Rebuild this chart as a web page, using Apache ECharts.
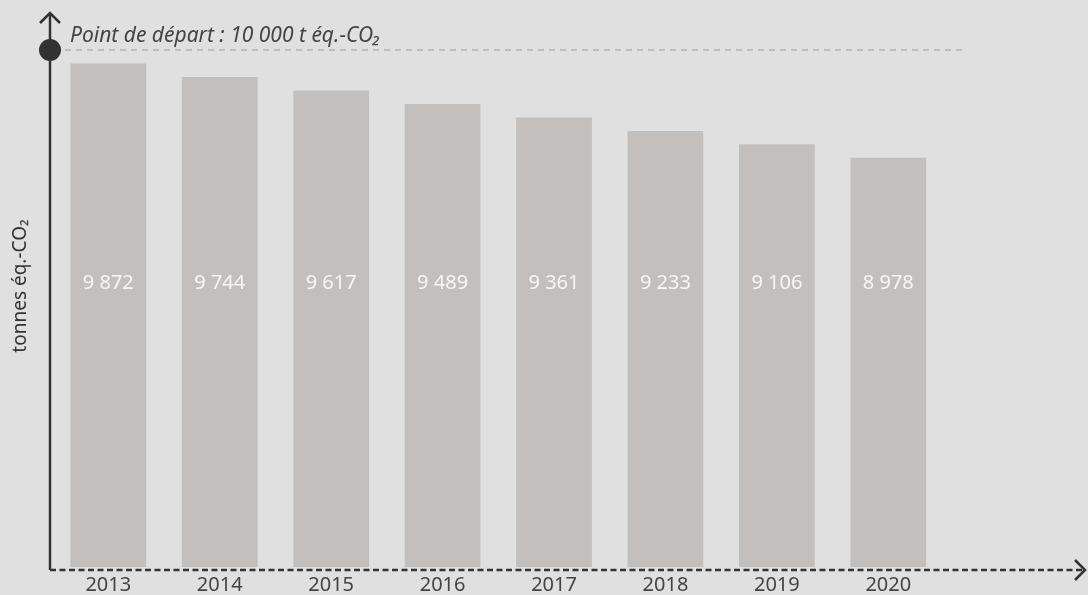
<!DOCTYPE html>
<html>
<head>
<meta charset="utf-8">
<script src="https://cdn.jsdelivr.net/npm/echarts@6/dist/echarts.min.js"></script>
<style>
  html, body { margin: 0; padding: 0; background: #e0e0e0; }
  #chart { width: 1088px; height: 595px; }
</style>
</head>
<body>
<div id="chart"></div>
<script>
// data
const years = ['2013', '2014', '2015', '2016', '2017', '2018', '2019', '2020'];
const emissions = [9872, 9744, 9617, 9489, 9361, 9233, 9106, 8978];
const startValue = 10000;
const startLabel = 'Point de départ : 10 000 t éq.-CO₂';
const yName = 'tonnes éq.-CO₂';

const dark = '#323330';
const font = '"Noto Sans", Roboto, sans-serif';

let chart = echarts.init(document.getElementById('chart'));

// 9 872 style
function fmt(v) {
  return String(v).replace(/\B(?=(\d{3})+(?!\d))/g, ' ');
}

let option = {
  backgroundColor: '#e0e0e0',
  animation: false,
  grid: { left: 52.6, right: 144, top: 50, bottom: 25 },
  xAxis: {
    type: 'category',
    data: years,
    axisLine: { show: false },
    axisTick: { show: false },
    axisLabel: { color: '#444', fontSize: 20, fontFamily: font, margin: 8 }
  },
  yAxis: {
    type: 'value',
    min: 5100,
    max: startValue,
    show: false
  },
  series: [{
    type: 'bar',
    data: emissions,
    barCategoryGap: '32%',
    itemStyle: { color: '#c3bfbd' },
    label: {
      show: true,
      position: 'insideBottom',
      distance: 274,
      color: '#f7f7f7',
      fontSize: 20,
      fontFamily: font,
      formatter: p => fmt(p.value)
    }
  }]
};
chart.setOption(option);

// axes and start-point annotation
const y0 = chart.convertToPixel({ yAxisIndex: 0 }, startValue);
const ax = 50, base = 570;

chart.setOption({
  graphic: [
    // dashed reference line
    { type: 'line', shape: { x1: 65, y1: y0, x2: 967, y2: y0 },
      style: { stroke: '#9a9a9a', lineWidth: 1, lineDash: [6, 5] } },
    // y axis
    { type: 'line', shape: { x1: ax, y1: base, x2: ax, y2: 13 },
      style: { stroke: dark, lineWidth: 2.5 } },
    { type: 'polyline', shape: { points: [[ax - 10, 23], [ax, 13], [ax + 10, 23]] },
      style: { stroke: dark, lineWidth: 2.5, fill: null } },
    { type: 'circle', shape: { cx: ax, cy: y0, r: 11 }, style: { fill: dark } },
    // x axis
    { type: 'line', shape: { x1: ax, y1: base, x2: 1083, y2: base },
      style: { stroke: dark, lineWidth: 2.5, lineDash: [6, 3.5] } },
    { type: 'polyline', shape: { points: [[1075, base - 10], [1085, base], [1075, base + 10]] },
      style: { stroke: dark, lineWidth: 2.5, fill: null } },
    // texts
    { type: 'text', x: 70, y: 36,
      style: { text: startLabel, fill: '#444', font: 'italic 21px ' + font, verticalAlign: 'middle' } },
    { type: 'text', x: 21, y: 286, rotation: Math.PI / 2,
      style: { text: yName, fill: '#333', font: '19px ' + font, align: 'center', verticalAlign: 'middle' } }
  ]
});
</script>
</body>
</html>
